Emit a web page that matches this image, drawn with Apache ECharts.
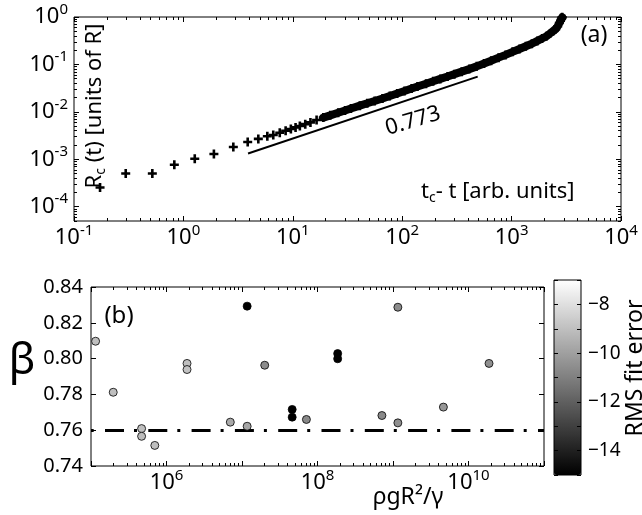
<!DOCTYPE html>
<html><head><meta charset="utf-8">
<script src="https://cdn.jsdelivr.net/npm/echarts@6/dist/echarts.min.js"></script>
<style>html,body{margin:0;padding:0;background:#fff}#c{width:642px;height:515px}</style>
</head><body><div id="c"></div><script>
const FONT = 'Noto Sans';
// ---- panel (a): Rc(t) vs tc - t ----
const tcT = [0.173, 0.297, 0.52, 0.826, 1.27, 1.9, 2.86, 3.87, 4.84, 5.85, 6.63, 7.6, 8.6, 9.6, 10.6, 11.6, 13, 14.5, 16.5, 19, 22, 26, 30, 34, 41, 48, 56, 66, 77, 90, 105, 122, 138, 165, 192, 223, 260, 300, 350, 410, 480, 560, 650, 760, 880, 1020, 1180, 1350, 1530, 1720, 1900, 2080, 2250, 2400, 2530, 2640, 2730, 2800, 2850, 2880, 2900];
const rcR = [2.55e-4, 5.0e-4, 5.0e-4, 7.7e-4, 1.03e-3, 1.29e-3, 1.82e-3, 2.32e-3, 2.69e-3, 3.05e-3, 3.26e-3, 3.63e-3, 3.99e-3, 4.35e-3, 4.70e-3, 5.05e-3, 5.51e-3, 6.0e-3, 6.75e-3, 7.56e-3, 8.44e-3, 9.56e-3, 1.065e-2, 1.18e-2, 1.35e-2, 1.515e-2, 1.70e-2, 1.91e-2, 2.16e-2, 2.44e-2, 2.76e-2, 3.11e-2, 3.42e-2, 3.93e-2, 4.41e-2, 4.95e-2, 5.58e-2, 6.24e-2, 7.04e-2, 7.97e-2, 9.1e-2, 0.105, 0.120, 0.139, 0.159, 0.184, 0.212, 0.242, 0.273, 0.313, 0.353, 0.393, 0.451, 0.506, 0.556, 0.638, 0.745, 0.836, 0.907, 0.95, 0.99];
const fitT = [3.9, 490];
const fitR = [1.32e-3, 5.52e-2];
const fitLabel = '0.773';
const aXTicks = [0.1, 1, 10, 100, 1000, 10000];
const aYTicks = [1e-4, 1e-3, 1e-2, 1e-1, 1];
// ---- panel (b): beta vs rho g R^2 / gamma ----
const bondNum = [1.15e5, 1.97e5, 4.68e5, 4.68e5, 7.0e5, 1.87e6, 1.87e6, 7.0e6, 1.17e7, 1.17e7, 2.0e7, 4.62e7, 4.62e7, 7.13e7, 1.85e8, 1.85e8, 7.13e8, 1.16e9, 1.16e9, 4.65e9, 1.87e10];
const betaVals = [0.8097, 0.7812, 0.7609, 0.7566, 0.7515, 0.7973, 0.7939, 0.7645, 0.8293, 0.7622, 0.7963, 0.7716, 0.7673, 0.7660, 0.8028, 0.7999, 0.7682, 0.8287, 0.7641, 0.7729, 0.7973];
const rmsErr = [-9.0, -9.0, -9.0, -9.1, -9.0, -9.0, -8.9, -9.7, -15, -9.8, -10.6, -15, -15, -10.7, -15, -15, -10.7, -10.6, -10.5, -10.3, -10.5];
const betaRef = 0.762;
const bXTicks = [1e5, 1e6, 1e7, 1e8, 1e9, 1e10, 1e11];
const bXLabels = [1e6, 1e8, 1e10];
const bYTicks = [0.74, 0.76, 0.78, 0.80, 0.82, 0.84];
const cbTicks = [-15, -14, -13, -12, -11, -10, -9, -8, -7];
const cbLabels = [-14, -12, -10, -8];

function minors(d0, d1) {
  const out = [];
  for (let d = d0; d <= d1; d++) for (let k = 2; k <= 9; k++) out.push(+(k * Math.pow(10, d)).toPrecision(6));
  return out;
}
const supRich = {
  b: { fontSize: 22, lineHeight: 30, fontFamily: FONT, color: '#000' },
  s: { fontSize: 15, lineHeight: 15, fontFamily: FONT, color: '#000', verticalAlign: 'top' }
};
function supFmt(v) { const e = Math.round(Math.log10(v)); return '{b|10}{s|' + e + '}'; }

function logAxis(grid, pos, min, max, ticks, len, labels, margin) {
  return {
    type: 'log', logBase: 10, gridIndex: grid, position: pos, min: min, max: max,
    axisLine: { show: false, onZero: false }, splitLine: { show: false }, minorTick: { show: false },
    axisTick: { show: true, inside: true, length: len, customValues: ticks, lineStyle: { color: '#000', width: 1 } },
    axisLabel: labels ? { show: true, customValues: labels, formatter: supFmt, margin: margin, rich: supRich } : { show: false }
  };
}
function valAxis(grid, pos, min, max, ticks, len, labels, margin, fmt, fs) {
  return {
    type: 'value', gridIndex: grid, position: pos, min: min, max: max,
    axisLine: { show: false, onZero: false }, splitLine: { show: false },
    axisTick: { show: true, inside: true, length: len, customValues: ticks, lineStyle: { color: '#000', width: 1 } },
    axisLabel: labels ? { show: true, customValues: labels, formatter: fmt, margin: margin, fontSize: fs, fontFamily: FONT, color: '#000' } : { show: false },
    z: 10
  };
}

const aXMin = minors(-1, 3), aYMin = minors(-5, -1), bXMin = minors(5, 10);
const plusSym = 'path://M3.2 0H5.8V3.2H9V5.8H5.8V9H3.2V5.8H0V3.2H3.2Z';

const option = {
  animation: false,
  backgroundColor: '#fff',
  textStyle: { fontFamily: FONT },
  grid: [
    { left: 74, top: 17, width: 547, height: 204, show: true, borderColor: '#000', borderWidth: 1, backgroundColor: 'transparent' },
    { left: 91, top: 287, width: 453, height: 179, show: true, borderColor: '#000', borderWidth: 1, backgroundColor: 'transparent' },
    { left: 554, top: 280, width: 27, height: 195, show: true, borderColor: '#000', borderWidth: 1, backgroundColor: 'transparent', z: 10 }
  ],
  xAxis: [
    logAxis(0, 'bottom', 0.1, 10000, aXTicks, 5, aXTicks, 2),
    logAxis(0, 'bottom', 0.1, 10000, aXMin, 3, null),
    logAxis(0, 'top', 0.1, 10000, aXTicks, 5, null),
    logAxis(0, 'top', 0.1, 10000, aXMin, 3, null),
    logAxis(1, 'bottom', 1e5, 1e11, bXTicks, 5, bXLabels, 2),
    logAxis(1, 'bottom', 1e5, 1e11, bXMin, 3, null),
    logAxis(1, 'top', 1e5, 1e11, bXTicks, 5, null),
    logAxis(1, 'top', 1e5, 1e11, bXMin, 3, null),
    { type: 'value', gridIndex: 2, min: 0, max: 1, show: false }
  ],
  yAxis: [
    logAxis(0, 'left', 5e-5, 1, aYTicks, 5, aYTicks, 6),
    logAxis(0, 'left', 5e-5, 1, aYMin, 3, null),
    logAxis(0, 'right', 5e-5, 1, aYTicks, 5, null),
    logAxis(0, 'right', 5e-5, 1, aYMin, 3, null),
    valAxis(1, 'left', 0.74, 0.84, bYTicks, 5, bYTicks, 8, v => v.toFixed(2), 20),
    valAxis(1, 'right', 0.74, 0.84, bYTicks, 5, null),
    valAxis(2, 'right', -15, -7, cbTicks, 4, cbLabels, 7, v => '\u2212' + Math.abs(v), 19),
    valAxis(2, 'left', -15, -7, cbTicks, 4, null)
  ],
  visualMap: {
    type: 'continuous', min: -15, max: -7, dimension: 2, seriesIndex: 3,
    inRange: { color: ['#000000', '#ffffff'] },
    orient: 'vertical', left: 554, top: 280, itemWidth: 27, itemHeight: 195, padding: 0,
    calculable: false, showLabel: false, hoverLink: false, z: 2
  },
  series: [
    { type: 'scatter', xAxisIndex: 0, yAxisIndex: 0, symbol: plusSym, symbolSize: 9,
      itemStyle: { color: '#000', opacity: 1 }, data: tcT.map((t, i) => [t, rcR[i]]), silent: true },
    { type: 'line', xAxisIndex: 0, yAxisIndex: 0, showSymbol: false, symbol: 'none',
      lineStyle: { color: '#000', width: 8, opacity: 1, cap: 'round', join: 'round' }, data: tcT.map((t, i) => [t, rcR[i]]).filter(p => p[0] >= 19), silent: true },
    { type: 'line', xAxisIndex: 0, yAxisIndex: 0, showSymbol: false, symbol: 'none',
      lineStyle: { color: '#000', width: 2 }, data: fitT.map((t, i) => [t, fitR[i]]), silent: true },
    { type: 'scatter', xAxisIndex: 4, yAxisIndex: 4, symbol: 'circle', symbolSize: 8,
      itemStyle: { borderColor: '#000', borderWidth: 0.8, opacity: 1 }, z: 5,
      data: bondNum.map((x, i) => [x, betaVals[i], rmsErr[i]]),
      markLine: { silent: true, symbol: ['none', 'none'], label: { show: false },
        lineStyle: { color: '#000', width: 3, opacity: 1, type: [19, 10, 3, 11.3], dashOffset: 29.3 },
        data: [{ yAxis: betaRef }] } }
  ],
  graphic: [
    { type: 'text', x: 594, y: 35, style: { text: '(a)', fontSize: 23, fontFamily: FONT, fill: '#000', align: 'center', verticalAlign: 'middle' } },
    { type: 'text', x: 413, y: 121, rotation: 0.29, style: { text: fitLabel, fontSize: 22, fontFamily: FONT, fill: '#000', align: 'center', verticalAlign: 'middle' } },
    { type: 'text', x: 95, y: 106, rotation: Math.PI / 2, style: { text: '{r|R}{c|c}{r| (t) [units of R]}', align: 'center', verticalAlign: 'middle',
      rich: { r: { fontSize: 22, lineHeight: 26, fontFamily: FONT, fill: '#000' }, c: { fontSize: 14, lineHeight: 14, fontFamily: FONT, fill: '#000', verticalAlign: 'bottom' } } } },
    { type: 'text', x: 421, y: 192, style: { text: '{r|t}{c|c}{r|- t [arb. units]}', align: 'left', verticalAlign: 'middle',
      rich: { r: { fontSize: 22, lineHeight: 26, fontFamily: FONT, fill: '#000' }, c: { fontSize: 14, lineHeight: 14, fontFamily: FONT, fill: '#000', verticalAlign: 'bottom' } } } },
    { type: 'text', x: 119, y: 316, style: { text: '(b)', fontSize: 24, fontFamily: FONT, fill: '#000', align: 'center', verticalAlign: 'middle' } },
    { type: 'text', x: 22, y: 361, style: { text: '\u03B2', fontSize: 44, fontFamily: FONT, fill: '#000', align: 'center', verticalAlign: 'middle' } },
    { type: 'text', x: 408, y: 497, style: { text: '\u03C1gR\u00B2/\u03B3', fontSize: 23, fontFamily: FONT, fill: '#000', align: 'center', verticalAlign: 'middle' } },
    { type: 'text', x: 635, y: 368, rotation: Math.PI / 2, style: { text: 'RMS fit error', fontSize: 23, fontFamily: FONT, fill: '#000', align: 'center', verticalAlign: 'middle' } }
  ]
};
const chart = echarts.init(document.getElementById('c'), null, { renderer: 'canvas' });
chart.setOption(option);
</script></body></html>
